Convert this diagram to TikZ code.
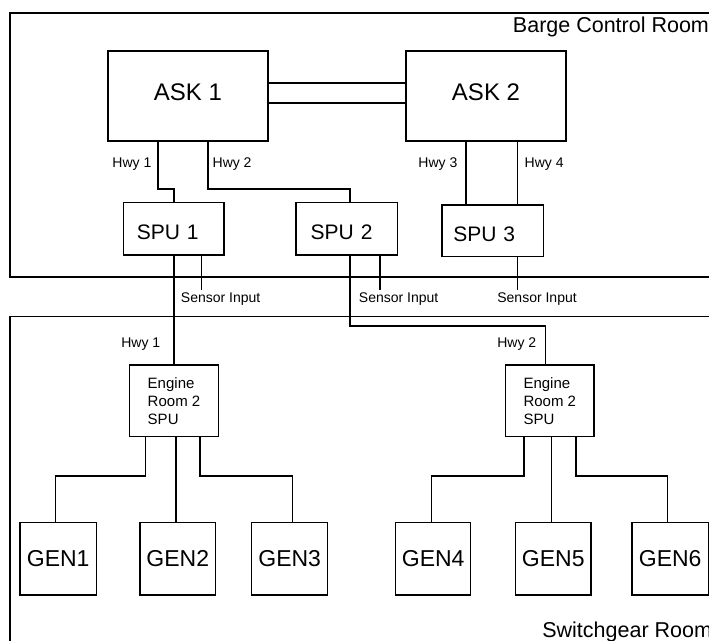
\documentclass[tikz,border=0pt]{standalone}
\usepackage{fontspec}
\setmainfont{Liberation Sans}
\begin{document}
\begin{tikzpicture}[x=1pt, y=-1pt, line width=1.3pt,
  box/.style={draw, line width=1.3pt, inner ysep=0pt},
  askbox/.style={box, minimum width=160pt, minimum height=90pt,
    font=\fontsize{24}{28}\selectfont, text depth=7.4pt},
  spubox/.style={box, minimum height=52.3pt, align=left,
    font=\fontsize{21}{25}\selectfont, text height=21pt, text depth=0pt},
  erbox/.style={box, minimum width=88.6pt, minimum height=71.7pt, align=left,
    font=\fontsize{15}{18}\selectfont},
  genbox/.style={box, minimum height=72.3pt, inner xsep=0pt,
    font=\fontsize{23}{27}\selectfont},
  small/.style={inner sep=0pt, font=\fontsize{14}{17}\selectfont},
  roomlabel/.style={inner sep=0pt, font=\fontsize{21.5}{25}\selectfont, anchor=base west}
]
\useasboundingbox (0,0) rectangle (709,640);
\clip (0,0) rectangle (709,640);

% rooms
\draw (10,13) rectangle (725,277);
\draw (10,316.7) rectangle (725,660);
\node[roomlabel] (barge) at (512.3,32.3) {Barge Control Room};
\node[roomlabel] (switch) at (541.7,637.3) {Switchgear Room};

% consoles
\node[askbox] (ask1) at (188,96) {ASK 1};
\node[askbox] (ask2) at (486,96) {ASK 2};
\draw ([yshift=13pt]ask1.east) -- ([yshift=13pt]ask2.west);
\draw ([yshift=-7pt]ask1.east) -- ([yshift=-7pt]ask2.west);

% signal processing units
\node[spubox, inner xsep=13pt, text width=74.3pt] (spu1) at (173.9,228.9) {SPU 1};
\node[spubox, inner xsep=14.7pt, text width=72.3pt] (spu2) at (346.8,228.9) {SPU 2};
\node[spubox, inner xsep=11.3pt, text width=79.1pt, minimum height=51.7pt] (spu3) at (492.8,230.8) {SPU 3};

% highways from the consoles
\coordinate (h1a) at (158,189);
\coordinate (h1b) at (174,189);
\coordinate (h2a) at (208,189);
\coordinate (h2b) at (350,189);
\coordinate (h3) at (466,189);
\coordinate (h4) at (517.7,189);
\draw (ask1.south -| h1a) -- (h1a) -- (h1b) -- (h1b |- spu1.north);
\draw (ask1.south -| h2a) -- (h2a) -- (h2b) -- (h2b |- spu2.north);
\draw (ask2.south -| h3) -- (h3 |- spu3.north);
\draw (ask2.south -| h4) -- (h4 |- spu3.north);
\node[small, anchor=base east] (lh1) at (152,167.7) {Hwy 1};
\node[small, anchor=base west] (lh2) at (212,167.7) {Hwy 2};
\node[small, anchor=base east] (lh3) at (458,167.7) {Hwy 3};
\node[small, anchor=base west] (lh4) at (524,167.7) {Hwy 4};

% sensor inputs
\coordinate (s1) at (201.7,290);
\coordinate (s2) at (380,290);
\coordinate (s3) at (517.7,290);
\draw (s1 |- spu1.south) -- (s1);
\draw (s2 |- spu2.south) -- (s2);
\draw (s3 |- spu3.south) -- (s3);
\node[small, anchor=base west] (si1) at (180.3,302.7) {Sensor Input};
\node[small, anchor=base west] (si2) at (358.3,302.7) {Sensor Input};
\node[small, anchor=base west] (si3) at (496.7,302.7) {Sensor Input};

% engine room SPUs
\node[erbox] (er1) at (174,400.8) {Engine\\Room 2\\SPU};
\node[erbox, minimum width=88.3pt] (er2) at (549.8,400.8) {Engine\\Room 2\\SPU};
\draw (spu1.south -| er1) -- (er1.north);
\coordinate (d2a) at (350,326);
\coordinate (d2b) at (545.7,326);
\draw (spu2.south -| d2a) -- (d2a) -- (d2b) -- (d2b |- er2.north);
\node[small, anchor=base west] (lb1) at (120.7,347) {Hwy 1};
\node[small, anchor=base west] (lb2) at (496.7,347) {Hwy 2};

% generators
\node[genbox, minimum width=76.3pt] (g1) at (58.2,558.8) {GEN1};
\node[genbox, minimum width=75.7pt] (g2) at (177.8,558.8) {GEN2};
\node[genbox, minimum width=76pt] (g3) at (289.7,558.8) {GEN3};
\node[genbox, minimum width=75pt] (g4) at (433.2,558.8) {GEN4};
\node[genbox, minimum width=75.3pt] (g5) at (553.3,558.8) {GEN5};
\node[genbox, minimum width=76.3pt] (g6) at (670.2,558.8) {GEN6};

\coordinate (b1a) at (145.7,476);
\coordinate (b1b) at (55.7,476);
\coordinate (b2) at (176,476);
\coordinate (b3a) at (200,476);
\coordinate (b3b) at (292.3,476);
\draw (er1.south -| b1a) -- (b1a) -- (b1b) -- (b1b |- g1.north);
\draw (er1.south -| b2) -- (b2 |- g2.north);
\draw (er1.south -| b3a) -- (b3a) -- (b3b) -- (b3b |- g3.north);

\coordinate (b4a) at (524,476);
\coordinate (b4b) at (431.7,476);
\coordinate (b5) at (551.7,476);
\coordinate (b6a) at (576,476);
\coordinate (b6b) at (667.3,476);
\draw (er2.south -| b4a) -- (b4a) -- (b4b) -- (b4b |- g4.north);
\draw (er2.south -| b5) -- (b5 |- g5.north);
\draw (er2.south -| b6a) -- (b6a) -- (b6b) -- (b6b |- g6.north);
\end{tikzpicture}
\end{document}
